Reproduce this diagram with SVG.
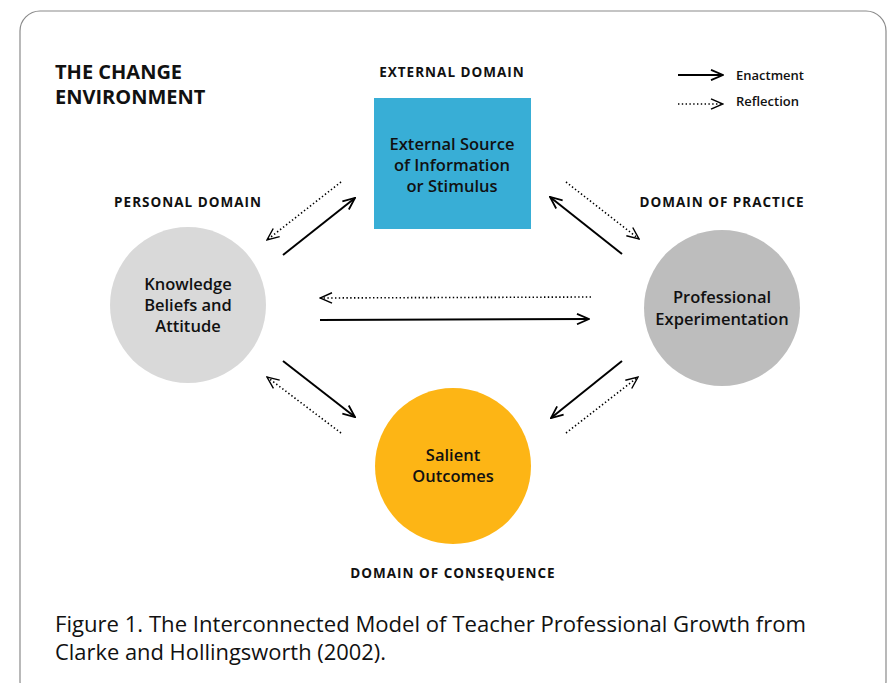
<svg xmlns="http://www.w3.org/2000/svg" width="892" height="683" viewBox="0 0 892 683">
  <style>
    .lbl { font-family: "Open Sans", "Noto Sans", "Liberation Sans", sans-serif; font-weight: 700; fill: #111; }
    .dom { font-size: 13.5px; letter-spacing: 1px; text-anchor: middle; }
    .node { font-size: 16.5px; font-weight: 600; text-anchor: middle; }
    .leg { font-size: 13px; font-weight: 600; }
    .cap { font-family: "Open Sans", "Noto Sans", "Liberation Sans", sans-serif; font-size: 21.5px; fill: #111; }
    .solid { stroke: #000; stroke-width: 2; fill: none; marker-end: url(#head); }
    .dot { stroke: #000; stroke-width: 1.6; stroke-dasharray: 1.4 2.4; fill: none; marker-end: url(#headThin); }
  </style>
  <defs>
    <marker id="head" viewBox="0 0 14 12" refX="13" refY="6" markerWidth="14" markerHeight="12" markerUnits="userSpaceOnUse" orient="auto">
      <path d="M1,0.8 L13,6 L1,11.2" fill="none" stroke="#000" stroke-width="1.8"/>
    </marker>
    <marker id="headThin" viewBox="0 0 14 12" refX="13" refY="6" markerWidth="14" markerHeight="12" markerUnits="userSpaceOnUse" orient="auto">
      <path d="M1,0.8 L13,6 L1,11.2" fill="none" stroke="#000" stroke-width="1.4"/>
    </marker>
  </defs>

  <rect width="892" height="683" fill="#fff"/>
  <!-- outer frame -->
  <rect x="20" y="11" width="866" height="690" rx="20" ry="20" fill="none" stroke="#8a8a8a" stroke-width="1.2"/>

  <!-- headings -->
  <text class="lbl" x="55" y="79" font-size="20">THE CHANGE</text>
  <text class="lbl" x="55" y="104" font-size="20">ENVIRONMENT</text>
  <text class="lbl dom" x="452" y="77">EXTERNAL DOMAIN</text>
  <text class="lbl dom" x="188" y="207">PERSONAL DOMAIN</text>
  <text class="lbl dom" x="722" y="207">DOMAIN OF PRACTICE</text>
  <text class="lbl dom" x="453" y="578">DOMAIN OF CONSEQUENCE</text>

  <!-- legend -->
  <g id="legend">
    <line class="solid" x1="678" y1="75" x2="723" y2="75"/>
    <text class="lbl leg" x="736" y="80">Enactment</text>
    <line class="dot" x1="678" y1="104" x2="723" y2="104"/>
    <text class="lbl leg" x="736" y="106">Reflection</text>
  </g>

  <!-- nodes -->
  <g id="external">
    <rect x="374" y="98" width="157" height="131" fill="#38aed6"/>
    <text class="lbl node" x="452" y="150">External Source</text>
    <text class="lbl node" x="452" y="171">of Information</text>
    <text class="lbl node" x="452" y="192">or Stimulus</text>
  </g>
  <g id="personal">
    <circle cx="188" cy="305" r="78" fill="#d9d9d9"/>
    <text class="lbl node" x="188" y="290">Knowledge</text>
    <text class="lbl node" x="188" y="311">Beliefs and</text>
    <text class="lbl node" x="188" y="332">Attitude</text>
  </g>
  <g id="practice">
    <circle cx="722" cy="308" r="78" fill="#bdbdbd"/>
    <text class="lbl node" x="722" y="303">Professional</text>
    <text class="lbl node" x="722" y="325">Experimentation</text>
  </g>
  <g id="consequence">
    <circle cx="453" cy="466" r="78" fill="#fdb515"/>
    <text class="lbl node" x="453" y="461">Salient</text>
    <text class="lbl node" x="453" y="482">Outcomes</text>
  </g>

  <!-- connectors -->
  <g id="connectors">
    <line class="solid" x1="283" y1="255" x2="355" y2="198"/>
    <line class="dot" x1="341" y1="182" x2="267" y2="240"/>
    <line class="solid" x1="622" y1="254" x2="550" y2="197"/>
    <line class="dot" x1="566" y1="182" x2="639" y2="239"/>
    <line class="dot" x1="591" y1="297" x2="320" y2="298"/>
    <line class="solid" x1="320" y1="320" x2="589" y2="319"/>
    <line class="solid" x1="283" y1="361" x2="355" y2="417"/>
    <line class="dot" x1="341" y1="433" x2="267" y2="377"/>
    <line class="solid" x1="622" y1="361" x2="551" y2="418"/>
    <line class="dot" x1="566" y1="433" x2="638" y2="377"/>
  </g>

  <!-- caption -->
  <text class="cap" x="55" y="632" textLength="751" lengthAdjust="spacingAndGlyphs">Figure 1. The Interconnected Model of Teacher Professional Growth from</text>
  <text class="cap" x="55" y="660" textLength="331" lengthAdjust="spacingAndGlyphs">Clarke and Hollingsworth (2002).</text>
</svg>
